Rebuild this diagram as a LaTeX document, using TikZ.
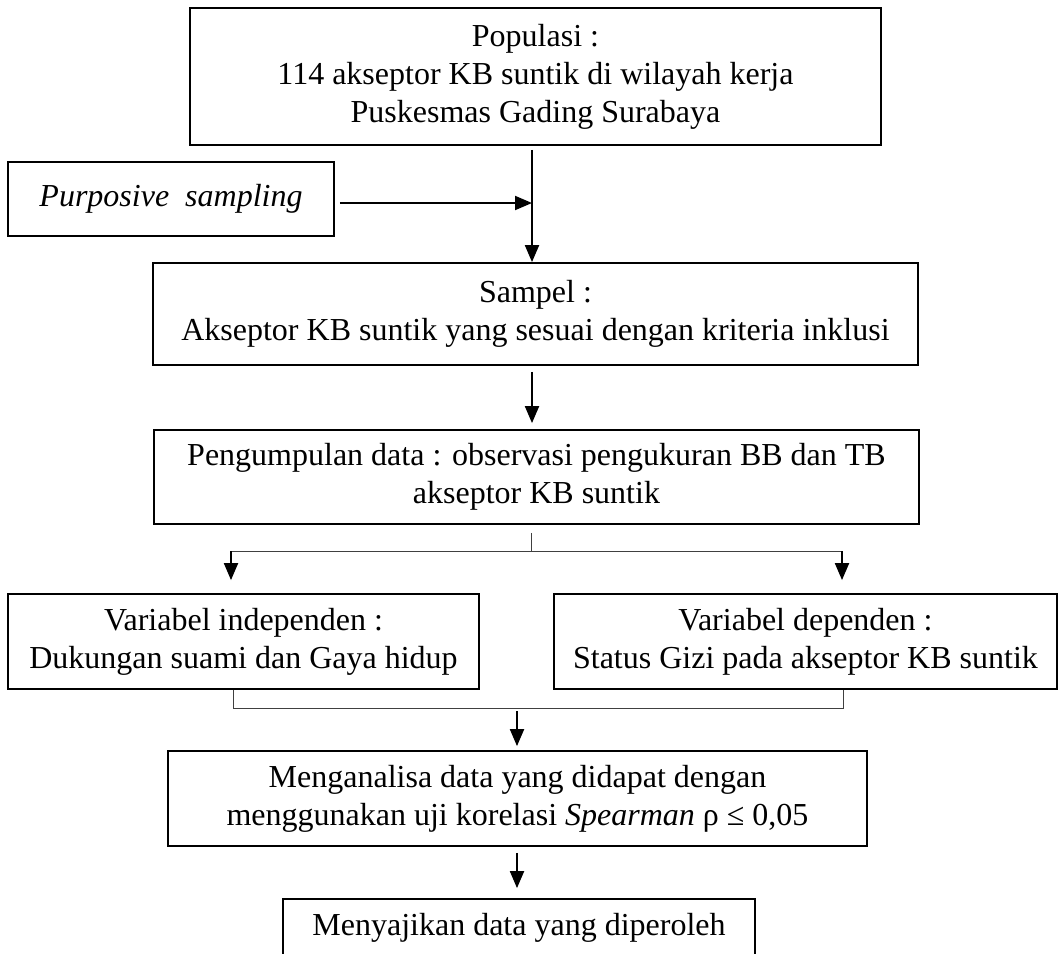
\documentclass[tikz,border=0pt]{standalone}
\usepackage{fontspec}
\setmainfont{Liberation Serif}
\usetikzlibrary{arrows.meta}
\begin{document}
\begin{tikzpicture}[x=1pt,y=-1pt,
  box/.style={draw,line width=1.8pt,rectangle,inner sep=0pt,align=center,font=\fontsize{32}{38}\selectfont},
  arr/.style={line width=2pt,-{Triangle[length=17pt,width=14pt]}},
  thinline/.style={line width=1pt,draw=black!75}]
\clip (0,0) rectangle (1059,953);
\node[box,minimum width=691pt,minimum height=137pt] (pop) at (535.5,76.5) {Populasi :\\114 akseptor KB suntik di wilayah kerja\\Puskesmas Gading Surabaya};
\node[box,minimum width=326pt,minimum height=74pt] (purp) at (171,199) {\textit{Purposive\ \ sampling}};
\node[box,minimum width=765pt,minimum height=102pt] (samp) at (535.5,314) {Sampel :\\Akseptor KB suntik yang sesuai dengan kriteria inklusi};
\node[box,minimum width=765pt,minimum height=94pt] (peng) at (536.5,477) {Pengumpulan data : observasi pengukuran BB dan TB\\akseptor KB suntik};
\node[box,minimum width=471pt,minimum height=95pt] (ind) at (243.5,641.5) {Variabel independen :\\Dukungan suami dan Gaya hidup};
\node[box,minimum width=503pt,minimum height=95pt] (dep) at (805.5,641.5) {Variabel dependen :\\Status Gizi pada akseptor KB suntik};
\node[box,minimum width=699pt,minimum height=95pt] (ana) at (517.5,798.5) {Menganalisa data yang didapat dengan\\menggunakan uji korelasi \textit{Spearman} ρ ≤ 0,05};
\node[box,minimum width=472pt,minimum height=58pt] (saji) at (519,928) {Menyajikan data yang diperoleh};
\coordinate (j1) at (532,203);
\coordinate (split) at (531,551);
\coordinate (sl) at (231,551);
\coordinate (sr) at (842,551);
\coordinate (bl) at (233,708);
\coordinate (br) at (843,708);
\coordinate (jb) at (517,711);
\draw[arr,shorten <=4pt] (pop.south -| j1) -- (samp.north -| j1);
\draw[arr,shorten <=5pt] (purp.east |- j1) -- (j1);
\draw[arr,shorten <=6pt,shorten >=6pt] (samp.south -| j1) -- (peng.north -| j1);
\draw[thinline,shorten <=8pt] (peng.south -| split) -- (split);
\draw[thinline] (sl) -- (sr);
\draw[arr,shorten >=13pt] (sl) -- (ind.north -| sl);
\draw[arr,shorten >=13pt] (sr) -- (dep.north -| sr);
\draw[thinline] (ind.south -| bl) -- (bl) -- (br) -- (dep.south -| br);
\draw[arr,shorten >=4pt] (jb) -- (ana.north -| jb);
\draw[arr,shorten <=6pt,shorten >=10pt] (ana.south -| jb) -- (saji.north -| jb);
\end{tikzpicture}
\end{document}
